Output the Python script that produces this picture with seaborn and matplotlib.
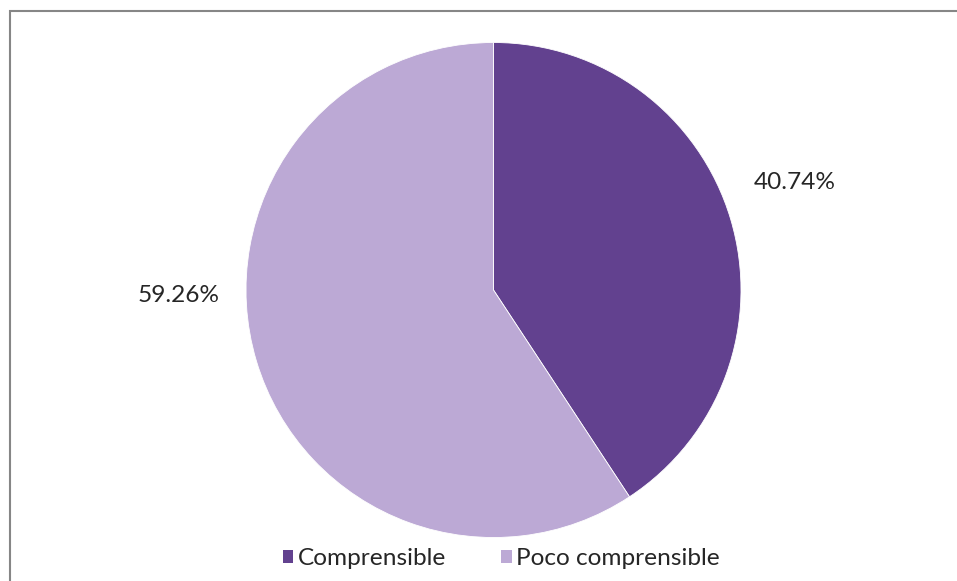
import matplotlib
matplotlib.use("Agg")
import matplotlib.pyplot as plt
from matplotlib.patches import Rectangle, Patch
import seaborn as sns

# Survey result: how understandable the material was
categories = ["Comprensible", "Poco comprensible"]
shares = [40.74, 59.26]
label_texts = [f"{v:.2f}%" for v in shares]

sns.set_theme(style="white")
plt.rcParams["font.family"] = ["Lato", "DejaVu Sans"]

colors = ["#62418f", "#bca9d5"]

W, H, DPI = 957, 581, 100
fig = plt.figure(figsize=(W / DPI, H / DPI), dpi=DPI)
fig.patch.set_facecolor("white")

# Pie area: centre (493.5, 290) px, radius 247.5 px
cx, cy, r = 493.5, 290.0, 247.5
ax = fig.add_axes([(cx - r) / W, (H - cy - r) / H, 2 * r / W, 2 * r / H])
wedges, _ = ax.pie(
    shares,
    colors=colors,
    startangle=90,
    counterclock=False,
    radius=1.0,
    wedgeprops=dict(edgecolor="#ffffff", linewidth=0.6),
)
ax.set_xlim(-1, 1)
ax.set_ylim(-1, 1)
ax.set_axis_off()

# Outside value labels
label_pos = [(1.218, 0.436), (-1.271, -0.024)]
for (x, y), txt in zip(label_pos, label_texts):
    ax.text(x, y, txt, ha="center", va="center", fontsize=17.6, color="#262626")

# Legend along the bottom
handles = [Patch(facecolor=c, edgecolor="none") for c in colors]
fig.legend(
    handles, categories,
    loc="center", bbox_to_anchor=(501.5 / W, 1 - 558.5 / H),
    ncol=2, frameon=False, fontsize=17.6,
    handlelength=0.42, handleheight=0.42, handletextpad=0.2,
    columnspacing=2.25, labelcolor="#262626",
)

# Chart-area border (open on the right and bottom edges)
fig.patches.append(Rectangle((9.5, -10), 1200, H - 10.5 + 10,
                             transform=None, fill=False,
                             edgecolor="#868686", linewidth=1.5))

fig.savefig("out.png", dpi=DPI)
